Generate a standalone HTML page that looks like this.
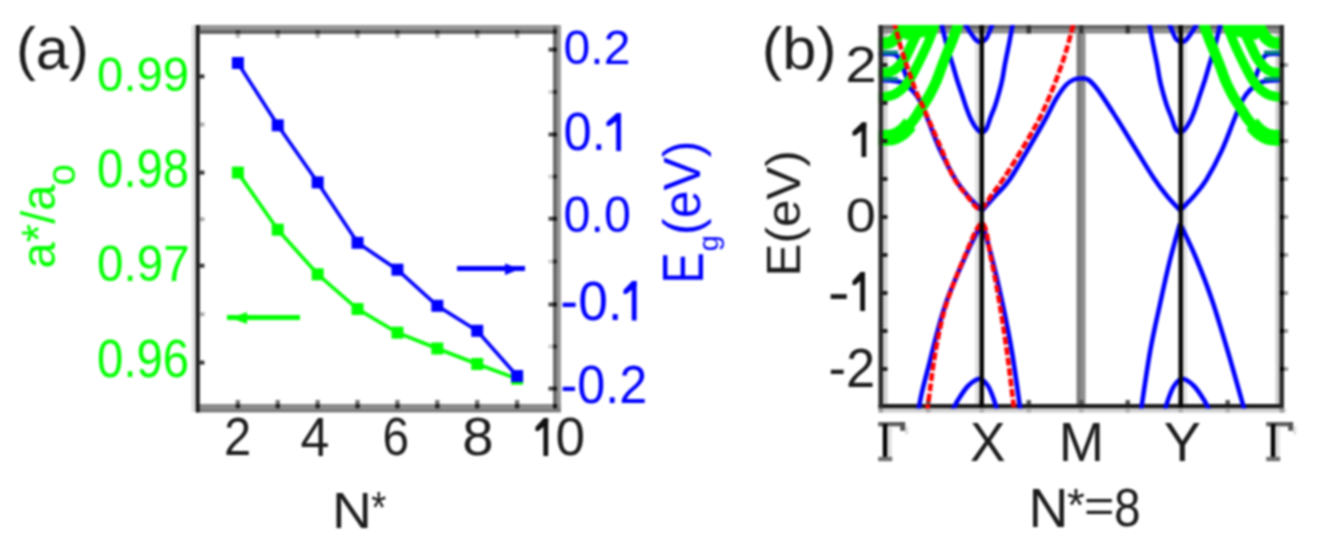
<!DOCTYPE html>
<html><head><meta charset="utf-8"><style>
html,body{margin:0;padding:0;background:#fff;}
svg{display:block;font-family:"Liberation Sans", sans-serif;filter:blur(1.1px);}
</style></head><body>
<svg width="1319" height="548" viewBox="0 0 1319 548" font-family='"Liberation Sans", sans-serif'>
<rect width="1319" height="548" fill="#fff"/>
<rect x="191.5" y="25" width="4.5" height="387" fill="#e0e0e0"/>
<rect x="196" y="25" width="365" height="5" fill="#969696"/>
<rect x="200" y="30" width="357" height="4" fill="#666"/>
<rect x="553" y="25" width="4" height="387" fill="#6a6a6a"/>
<rect x="557" y="25" width="4" height="387" fill="#999"/>
<rect x="196" y="404" width="365" height="4.3" fill="#8a8a8a"/>
<rect x="196" y="408.3" width="365" height="4.1" fill="#7a7a7a"/>
<rect x="553" y="404" width="4" height="4.3" fill="#111"/>
<rect x="553" y="29" width="4" height="5" fill="#222"/>
<rect x="195.7" y="25" width="4.1" height="387.4" fill="#1a1a1a"/>
<rect x="235.6888888888889" y="30" width="4.4" height="4" fill="#333"/>
<rect x="235.6888888888889" y="34" width="4.4" height="4" fill="#bbb"/>
<rect x="235.6888888888889" y="400" width="4.4" height="4" fill="#777"/>
<rect x="235.6888888888889" y="404" width="4.4" height="4.3" fill="#222"/>
<rect x="275.5777777777778" y="30" width="4.4" height="4" fill="#333"/>
<rect x="275.5777777777778" y="34" width="4.4" height="4" fill="#bbb"/>
<rect x="275.5777777777778" y="400" width="4.4" height="4" fill="#777"/>
<rect x="275.5777777777778" y="404" width="4.4" height="4.3" fill="#222"/>
<rect x="315.4666666666667" y="30" width="4.4" height="4" fill="#333"/>
<rect x="315.4666666666667" y="34" width="4.4" height="4" fill="#bbb"/>
<rect x="315.4666666666667" y="400" width="4.4" height="4" fill="#777"/>
<rect x="315.4666666666667" y="404" width="4.4" height="4.3" fill="#222"/>
<rect x="355.35555555555555" y="30" width="4.4" height="4" fill="#333"/>
<rect x="355.35555555555555" y="34" width="4.4" height="4" fill="#bbb"/>
<rect x="355.35555555555555" y="400" width="4.4" height="4" fill="#777"/>
<rect x="355.35555555555555" y="404" width="4.4" height="4.3" fill="#222"/>
<rect x="395.24444444444447" y="30" width="4.4" height="4" fill="#333"/>
<rect x="395.24444444444447" y="34" width="4.4" height="4" fill="#bbb"/>
<rect x="395.24444444444447" y="400" width="4.4" height="4" fill="#777"/>
<rect x="395.24444444444447" y="404" width="4.4" height="4.3" fill="#222"/>
<rect x="435.1333333333334" y="30" width="4.4" height="4" fill="#333"/>
<rect x="435.1333333333334" y="34" width="4.4" height="4" fill="#bbb"/>
<rect x="435.1333333333334" y="400" width="4.4" height="4" fill="#777"/>
<rect x="435.1333333333334" y="404" width="4.4" height="4.3" fill="#222"/>
<rect x="475.02222222222224" y="30" width="4.4" height="4" fill="#333"/>
<rect x="475.02222222222224" y="34" width="4.4" height="4" fill="#bbb"/>
<rect x="475.02222222222224" y="400" width="4.4" height="4" fill="#777"/>
<rect x="475.02222222222224" y="404" width="4.4" height="4.3" fill="#222"/>
<rect x="514.911111111111" y="30" width="4.4" height="4" fill="#333"/>
<rect x="514.911111111111" y="34" width="4.4" height="4" fill="#bbb"/>
<rect x="514.911111111111" y="400" width="4.4" height="4" fill="#777"/>
<rect x="514.911111111111" y="404" width="4.4" height="4.3" fill="#222"/>
<rect x="199.8" y="74.4" width="4.6" height="4" fill="#333"/>
<rect x="199.8" y="170.6" width="4.6" height="4" fill="#333"/>
<rect x="199.8" y="263.7" width="4.6" height="4" fill="#333"/>
<rect x="199.8" y="360.6" width="4.6" height="4" fill="#333"/>
<rect x="199.8" y="122.5" width="4.6" height="4" fill="#aaa"/>
<rect x="199.8" y="217.2" width="4.6" height="4" fill="#aaa"/>
<rect x="199.8" y="312.2" width="4.6" height="4" fill="#aaa"/>
<rect x="548.5" y="47.6" width="4.5" height="4" fill="#444"/>
<rect x="553" y="47.6" width="4" height="4" fill="#111"/>
<rect x="548.5" y="132.5" width="4.5" height="4" fill="#444"/>
<rect x="553" y="132.5" width="4" height="4" fill="#111"/>
<rect x="548.5" y="216.7" width="4.5" height="4" fill="#444"/>
<rect x="553" y="216.7" width="4" height="4" fill="#111"/>
<rect x="548.5" y="302.5" width="4.5" height="4" fill="#444"/>
<rect x="553" y="302.5" width="4" height="4" fill="#111"/>
<rect x="548.5" y="386.6" width="4.5" height="4" fill="#444"/>
<rect x="553" y="386.6" width="4" height="4" fill="#111"/>
<rect x="548.5" y="90" width="4.5" height="4" fill="#ccc"/>
<rect x="553" y="90" width="4" height="4" fill="#222"/>
<rect x="548.5" y="174.6" width="4.5" height="4" fill="#ccc"/>
<rect x="553" y="174.6" width="4" height="4" fill="#222"/>
<rect x="548.5" y="259.5" width="4.5" height="4" fill="#ccc"/>
<rect x="553" y="259.5" width="4" height="4" fill="#222"/>
<rect x="548.5" y="344.5" width="4.5" height="4" fill="#ccc"/>
<rect x="553" y="344.5" width="4" height="4" fill="#222"/>
<path d="M237.9,172.6 L277.8,229.7 L317.7,274.3 L357.6,309.0 L397.4,332.7 L437.3,348.5 L477.2,364.0 L517.1,378.7" fill="none" stroke="#00ff00" stroke-width="3.6"/>
<rect x="231.88888888888889" y="166.6" width="12" height="12" fill="#00ff00"/>
<rect x="271.77777777777777" y="223.7" width="12" height="12" fill="#00ff00"/>
<rect x="311.6666666666667" y="268.3" width="12" height="12" fill="#00ff00"/>
<rect x="351.55555555555554" y="303" width="12" height="12" fill="#00ff00"/>
<rect x="391.44444444444446" y="326.7" width="12" height="12" fill="#00ff00"/>
<rect x="431.33333333333337" y="342.5" width="12" height="12" fill="#00ff00"/>
<rect x="471.22222222222223" y="358" width="12" height="12" fill="#00ff00"/>
<rect x="511.1111111111111" y="372.7" width="12" height="12" fill="#00ff00"/>
<path d="M237.9,63.0 L277.8,125.3 L317.7,182.4 L357.6,242.8 L397.4,269.7 L437.3,305.8 L477.2,330.8 L517.1,376.0" fill="none" stroke="#0000ff" stroke-width="3.6"/>
<rect x="231.88888888888889" y="57" width="12" height="12" fill="#0000ff"/>
<rect x="271.77777777777777" y="119.3" width="12" height="12" fill="#0000ff"/>
<rect x="311.6666666666667" y="176.4" width="12" height="12" fill="#0000ff"/>
<rect x="351.55555555555554" y="236.8" width="12" height="12" fill="#0000ff"/>
<rect x="391.44444444444446" y="263.7" width="12" height="12" fill="#0000ff"/>
<rect x="431.33333333333337" y="299.8" width="12" height="12" fill="#0000ff"/>
<rect x="471.22222222222223" y="324.8" width="12" height="12" fill="#0000ff"/>
<rect x="511.1111111111111" y="370" width="12" height="12" fill="#0000ff"/>
<rect x="457" y="266" width="68" height="5" fill="#0000ff"/>
<path d="M505,263.5 L520,269 L505,275 Z" fill="#0000ff"/>
<rect x="227" y="315" width="73" height="5" fill="#00ff00"/>
<path d="M247,312 L231,318 L247,324 Z" fill="#00ff00"/>
<rect x="883.0" y="29.0" width="4.5" height="377.0" fill="#d0d0d0"/>
<rect x="1275.5" y="29.0" width="4.5" height="377.0" fill="#cfcfcf"/>
<rect x="975.0" y="29.0" width="4.5" height="377.0" fill="#e2e2e2"/>
<rect x="1183.0" y="29.0" width="4" height="377.0" fill="#e2e2e2"/>
<rect x="1076.5" y="29.0" width="4.5" height="377.0" fill="#7e7e7e"/>
<rect x="1081.0" y="29.0" width="4.5" height="377.0" fill="#8e8e8e"/>
<rect x="878.5" y="25.0" width="405.5" height="4.3" fill="#666"/>
<rect x="878.5" y="29.3" width="405.5" height="4.2" fill="#8c8c8c"/>
<rect x="878.5" y="404.0" width="405.5" height="4.5" fill="#1a1a1a"/>
<rect x="878.5" y="408.5" width="407.5" height="4" fill="#d0d0d0"/>
<rect x="926" y="25.0" width="4.5" height="8.5" fill="#333"/>
<rect x="926" y="400.0" width="4.5" height="4" fill="#555"/>
<rect x="926" y="408.5" width="4.5" height="4" fill="#aaa"/>
<rect x="979.5" y="25.0" width="4.5" height="8.5" fill="#333"/>
<rect x="979.5" y="400.0" width="4.5" height="4" fill="#555"/>
<rect x="979.5" y="408.5" width="4.5" height="4" fill="#aaa"/>
<rect x="1026.5" y="25.0" width="4.5" height="8.5" fill="#333"/>
<rect x="1026.5" y="400.0" width="4.5" height="4" fill="#555"/>
<rect x="1026.5" y="408.5" width="4.5" height="4" fill="#aaa"/>
<rect x="1079.0" y="25.0" width="4.5" height="8.5" fill="#333"/>
<rect x="1079.0" y="400.0" width="4.5" height="4" fill="#555"/>
<rect x="1079.0" y="408.5" width="4.5" height="4" fill="#aaa"/>
<rect x="1125.5" y="25.0" width="4.5" height="8.5" fill="#333"/>
<rect x="1125.5" y="400.0" width="4.5" height="4" fill="#555"/>
<rect x="1125.5" y="408.5" width="4.5" height="4" fill="#aaa"/>
<rect x="1178.5" y="25.0" width="4.5" height="8.5" fill="#333"/>
<rect x="1178.5" y="400.0" width="4.5" height="4" fill="#555"/>
<rect x="1178.5" y="408.5" width="4.5" height="4" fill="#aaa"/>
<rect x="1225.5" y="25.0" width="4.5" height="8.5" fill="#333"/>
<rect x="1225.5" y="400.0" width="4.5" height="4" fill="#555"/>
<rect x="1225.5" y="408.5" width="4.5" height="4" fill="#aaa"/>
<clipPath id="cb"><rect x="878.5" y="25" width="405.5" height="383.5"/></clipPath>
<g clip-path="url(#cb)">
<path d="M982.0,210.6 C979.7,208.2 972.4,201.1 968.0,196.0 C963.6,190.9 960.5,187.7 955.8,180.0 C951.1,172.3 944.6,160.0 940.0,150.0 C935.4,140.0 931.3,128.2 928.0,120.0 C924.7,111.8 922.7,106.0 920.0,101.0 C917.3,96.0 915.3,93.2 912.0,90.0 C908.7,86.8 905.3,83.7 900.0,82.0 C894.7,80.3 883.3,80.3 880.0,80.0" fill="none" stroke="#0000ff" stroke-width="4.6" stroke-linejoin="round" />
<path d="M1180.0,210.6 C1182.3,208.2 1189.6,201.1 1194.0,196.0 C1198.4,190.9 1201.5,187.7 1206.2,180.0 C1210.9,172.3 1217.4,160.0 1222.0,150.0 C1226.6,140.0 1230.7,128.2 1234.0,120.0 C1237.3,111.8 1239.3,106.0 1242.0,101.0 C1244.7,96.0 1246.7,93.2 1250.0,90.0 C1253.3,86.8 1256.7,83.7 1262.0,82.0 C1267.3,80.3 1278.7,80.3 1282.0,80.0" fill="none" stroke="#0000ff" stroke-width="4.6" stroke-linejoin="round" />
<path d="M982.0,210.6 C984.3,208.0 991.4,200.1 996.0,195.0 C1000.6,189.9 1003.7,188.2 1009.4,180.0 C1015.1,171.8 1024.0,156.2 1030.0,146.0 C1036.0,135.8 1041.4,126.4 1045.7,118.6 C1050.0,110.8 1052.6,104.6 1056.0,99.0 C1059.4,93.4 1063.0,88.2 1066.0,85.0 C1069.0,81.8 1071.5,80.6 1074.0,79.5 C1076.5,78.4 1078.7,78.5 1081.0,78.5 C1083.3,78.5 1085.2,77.6 1088.0,79.5 C1090.8,81.4 1093.2,83.6 1098.0,90.0 C1102.8,96.4 1110.3,108.3 1116.5,118.0 C1122.7,127.7 1128.9,138.2 1135.0,148.0 C1141.1,157.8 1147.7,169.0 1153.0,177.0 C1158.3,185.0 1162.4,190.4 1167.0,196.0 C1171.6,201.6 1178.2,208.2 1180.4,210.6" fill="none" stroke="#0000ff" stroke-width="4.6" stroke-linejoin="round" />
<path d="M878.0,54.0 C881.0,54.2 891.8,52.7 896.0,55.0 C900.2,57.3 901.0,63.5 903.0,68.0 C905.0,72.5 907.2,79.7 908.0,82.0" fill="none" stroke="#0000ff" stroke-width="4.6" stroke-linejoin="round" />
<path d="M1284.0,54.0 C1281.0,54.2 1270.2,52.7 1266.0,55.0 C1261.8,57.3 1261.0,63.5 1259.0,68.0 C1257.0,72.5 1254.8,79.7 1254.0,82.0" fill="none" stroke="#0000ff" stroke-width="4.6" stroke-linejoin="round" />
<path d="M982.0,222.7 C979.3,228.1 971.8,242.1 966.0,255.0 C960.2,267.9 951.8,287.0 947.0,300.0 C942.2,313.0 939.9,322.5 937.0,333.0 C934.1,343.5 931.9,353.2 929.4,363.0 C926.9,372.8 923.9,383.8 922.0,392.0 C920.1,400.2 918.7,408.7 918.0,412.0" fill="none" stroke="#0000ff" stroke-width="4.6" stroke-linejoin="round" />
<path d="M982.0,222.7 C983.7,228.6 988.7,245.1 992.0,258.0 C995.3,270.9 998.5,284.3 1001.8,300.0 C1005.1,315.7 1008.9,333.3 1012.0,352.0 C1015.1,370.7 1019.2,402.0 1020.7,412.0" fill="none" stroke="#0000ff" stroke-width="4.6" stroke-linejoin="round" />
<path d="M1180.0,223.5 C1178.3,229.6 1173.2,247.2 1170.0,260.0 C1166.8,272.8 1164.2,284.7 1160.9,300.0 C1157.6,315.3 1153.3,333.3 1150.0,352.0 C1146.7,370.7 1142.3,402.0 1140.8,412.0" fill="none" stroke="#0000ff" stroke-width="4.6" stroke-linejoin="round" />
<path d="M1180.0,223.5 C1182.7,229.2 1190.7,245.2 1196.0,258.0 C1201.3,270.8 1206.7,284.3 1212.0,300.0 C1217.3,315.7 1222.5,333.3 1228.0,352.0 C1233.5,370.7 1242.2,402.0 1245.0,412.0" fill="none" stroke="#0000ff" stroke-width="4.6" stroke-linejoin="round" />
<path d="M941.6,24.0 C942.3,27.0 944.5,36.5 946.0,42.0 C947.5,47.5 949.0,52.9 950.3,57.2 C951.6,61.5 952.5,64.2 953.6,68.0 C954.7,71.8 955.7,75.6 957.1,80.0 C958.5,84.4 960.3,89.5 961.9,94.2 C963.5,99.0 965.0,104.2 966.6,108.5 C968.2,112.8 969.8,117.0 971.4,120.3 C973.0,123.6 974.8,126.5 976.5,128.5 C978.2,130.5 980.1,132.5 981.8,132.5 C983.5,132.5 985.1,130.9 986.5,128.5 C987.9,126.1 988.9,121.8 990.3,118.0 C991.7,114.2 993.6,110.0 995.0,106.0 C996.4,102.0 997.4,98.5 998.6,94.2 C999.8,89.9 1001.1,85.1 1002.2,80.0 C1003.3,74.9 1003.8,70.1 1005.0,63.8 C1006.2,57.5 1008.1,48.6 1009.4,42.0 C1010.7,35.4 1012.2,27.0 1012.7,24.0" fill="none" stroke="#0000ff" stroke-width="4.6" stroke-linejoin="round" />
<path d="M1220.4,24.0 C1219.7,27.0 1217.5,36.5 1216.0,42.0 C1214.5,47.5 1213.0,52.9 1211.7,57.2 C1210.4,61.5 1209.5,64.2 1208.4,68.0 C1207.3,71.8 1206.3,75.6 1204.9,80.0 C1203.5,84.4 1201.7,89.5 1200.1,94.2 C1198.5,99.0 1197.0,104.2 1195.4,108.5 C1193.8,112.8 1192.2,117.0 1190.6,120.3 C1188.9,123.6 1187.2,126.5 1185.5,128.5 C1183.8,130.5 1181.9,132.5 1180.2,132.5 C1178.5,132.5 1176.9,130.9 1175.5,128.5 C1174.1,126.1 1173.1,121.8 1171.7,118.0 C1170.3,114.2 1168.4,110.0 1167.0,106.0 C1165.6,102.0 1164.6,98.5 1163.4,94.2 C1162.2,89.9 1160.9,85.1 1159.8,80.0 C1158.7,74.9 1158.2,70.1 1157.0,63.8 C1155.8,57.5 1153.9,48.6 1152.6,42.0 C1151.3,35.4 1149.8,27.0 1149.3,24.0" fill="none" stroke="#0000ff" stroke-width="4.6" stroke-linejoin="round" />
<path d="M964.0,22.0 C965.0,23.7 968.0,29.0 970.0,32.0 C972.0,35.0 974.2,38.3 976.0,40.0 C977.8,41.7 979.3,42.2 981.0,42.0 C982.7,41.8 984.3,41.3 986.0,39.0 C987.7,36.7 989.8,30.8 991.0,28.0 C992.2,25.2 992.7,23.0 993.0,22.0" fill="none" stroke="#0000ff" stroke-width="4.6" stroke-linejoin="round" />
<path d="M1198.0,22.0 C1197.0,23.7 1194.0,29.0 1192.0,32.0 C1190.0,35.0 1187.8,38.3 1186.0,40.0 C1184.2,41.7 1182.7,42.2 1181.0,42.0 C1179.3,41.8 1177.7,41.3 1176.0,39.0 C1174.3,36.7 1172.2,30.8 1171.0,28.0 C1169.8,25.2 1169.3,23.0 1169.0,22.0" fill="none" stroke="#0000ff" stroke-width="4.6" stroke-linejoin="round" />
<path d="M952.0,412.0 C953.0,410.0 955.3,404.3 958.0,400.0 C960.7,395.7 964.4,389.6 968.0,386.0 C971.6,382.4 976.5,378.7 979.8,378.7 C983.1,378.7 985.6,382.4 988.0,386.0 C990.4,389.6 992.4,395.7 994.0,400.0 C995.6,404.3 996.9,410.0 997.5,412.0" fill="none" stroke="#0000ff" stroke-width="4.6" stroke-linejoin="round" />
<path d="M1210.0,412.0 C1209.0,410.0 1206.7,404.3 1204.0,400.0 C1201.3,395.7 1197.6,389.6 1194.0,386.0 C1190.4,382.4 1185.5,378.7 1182.2,378.7 C1178.9,378.7 1176.4,382.4 1174.0,386.0 C1171.6,389.6 1169.6,395.7 1168.0,400.0 C1166.4,404.3 1165.1,410.0 1164.5,412.0" fill="none" stroke="#0000ff" stroke-width="4.6" stroke-linejoin="round" />
<path d="M876.0,138.0 C879.2,137.7 890.2,137.3 895.0,136.0 C899.8,134.7 901.7,133.0 905.0,130.0 C908.3,127.0 912.2,121.8 915.0,118.0 C917.8,114.2 919.7,110.7 922.0,107.0 C924.3,103.3 926.7,100.2 929.0,96.0 C931.3,91.8 933.8,87.0 936.0,82.0 C938.2,77.0 940.1,71.0 942.0,66.0 C943.9,61.0 945.8,56.3 947.5,52.0 C949.2,47.7 951.0,43.8 952.5,40.0 C954.0,36.2 955.5,32.3 956.5,29.0 C957.5,25.7 958.2,21.5 958.5,20.0" fill="none" stroke="#00ff00" stroke-width="10.5" stroke-linecap="butt"/>
<path d="M1286.0,138.0 C1282.8,137.7 1271.8,137.3 1267.0,136.0 C1262.2,134.7 1260.3,133.0 1257.0,130.0 C1253.7,127.0 1249.8,121.8 1247.0,118.0 C1244.2,114.2 1242.3,110.7 1240.0,107.0 C1237.7,103.3 1235.3,100.2 1233.0,96.0 C1230.7,91.8 1228.2,87.0 1226.0,82.0 C1223.8,77.0 1221.9,71.0 1220.0,66.0 C1218.1,61.0 1216.2,56.3 1214.5,52.0 C1212.8,47.7 1211.0,43.8 1209.5,40.0 C1208.0,36.2 1206.5,32.3 1205.5,29.0 C1204.5,25.7 1203.8,21.5 1203.5,20.0" fill="none" stroke="#00ff00" stroke-width="10.5" stroke-linecap="butt"/>
<path d="M876.0,138.0 C878.8,137.8 888.5,138.1 893.0,137.0 C897.5,135.9 900.2,133.7 903.0,131.5 C905.8,129.3 908.8,125.2 910.0,124.0" fill="none" stroke="#00ff00" stroke-width="16" stroke-linecap="butt"/>
<path d="M1286.0,138.0 C1283.2,137.8 1273.5,138.1 1269.0,137.0 C1264.5,135.9 1261.8,133.7 1259.0,131.5 C1256.2,129.3 1253.2,125.2 1252.0,124.0" fill="none" stroke="#00ff00" stroke-width="16" stroke-linecap="butt"/>
<path d="M876.0,98.0 C878.8,97.5 888.5,96.7 893.0,95.0 C897.5,93.3 900.2,90.7 903.0,88.0 C905.8,85.3 907.8,82.3 910.0,79.0 C912.2,75.7 914.0,71.8 916.0,68.0 C918.0,64.2 920.0,60.2 922.0,56.0 C924.0,51.8 926.2,47.3 928.0,43.0 C929.8,38.7 931.7,33.8 933.0,30.0 C934.3,26.2 935.5,21.7 936.0,20.0" fill="none" stroke="#00ff00" stroke-width="9.5" stroke-linecap="butt"/>
<path d="M1286.0,98.0 C1283.2,97.5 1273.5,96.7 1269.0,95.0 C1264.5,93.3 1261.8,90.7 1259.0,88.0 C1256.2,85.3 1254.2,82.3 1252.0,79.0 C1249.8,75.7 1248.0,71.8 1246.0,68.0 C1244.0,64.2 1242.0,60.2 1240.0,56.0 C1238.0,51.8 1235.8,47.3 1234.0,43.0 C1232.2,38.7 1230.3,33.8 1229.0,30.0 C1227.7,26.2 1226.5,21.7 1226.0,20.0" fill="none" stroke="#00ff00" stroke-width="9.5" stroke-linecap="butt"/>
<path d="M876.0,73.0 C878.3,72.8 886.3,73.0 890.0,72.0 C893.7,71.0 895.5,69.3 898.0,67.0 C900.5,64.7 902.8,61.5 905.0,58.0 C907.2,54.5 909.0,50.2 911.0,46.0 C913.0,41.8 915.3,37.3 917.0,33.0 C918.7,28.7 920.3,22.2 921.0,20.0" fill="none" stroke="#00ff00" stroke-width="10" stroke-linecap="butt"/>
<path d="M1286.0,73.0 C1283.7,72.8 1275.7,73.0 1272.0,72.0 C1268.3,71.0 1266.5,69.3 1264.0,67.0 C1261.5,64.7 1259.2,61.5 1257.0,58.0 C1254.8,54.5 1253.0,50.2 1251.0,46.0 C1249.0,41.8 1246.7,37.3 1245.0,33.0 C1243.3,28.7 1241.7,22.2 1241.0,20.0" fill="none" stroke="#00ff00" stroke-width="10" stroke-linecap="butt"/>
<path d="M876.0,43.0 C878.0,43.0 884.7,43.8 888.0,43.0 C891.3,42.2 893.7,40.5 896.0,38.0 C898.3,35.5 900.3,31.3 902.0,28.0 C903.7,24.7 905.3,19.7 906.0,18.0" fill="none" stroke="#00ff00" stroke-width="12" stroke-linecap="butt"/>
<path d="M1286.0,43.0 C1284.0,43.0 1277.3,43.8 1274.0,43.0 C1270.7,42.2 1268.3,40.5 1266.0,38.0 C1263.7,35.5 1261.7,31.3 1260.0,28.0 C1258.3,24.7 1256.7,19.7 1256.0,18.0" fill="none" stroke="#00ff00" stroke-width="12" stroke-linecap="butt"/>
<path d="M896,20 L935,20 L930,36 L905,40 Z" fill="#00ff00"/>
<path d="M1266.0,20.0 L1227.0,20.0 L1232.0,36.0 L1257.0,40.0 Z" fill="#00ff00"/>
<rect x="879" y="50.5" width="19" height="4" fill="#00807f"/>
<rect x="1264.0" y="50.5" width="19" height="4" fill="#00807f"/>
<rect x="879" y="77" width="19" height="4" fill="#00807f"/>
<rect x="1264.0" y="77" width="19" height="4" fill="#00807f"/>
<path d="M894.0,21.5 C895.0,25.3 898.0,37.5 900.0,44.5 C902.0,51.5 904.2,58.0 906.0,63.5 C907.8,69.0 909.3,72.8 911.0,77.5 C912.7,82.2 914.2,87.0 916.0,91.5 C917.8,96.0 919.3,98.5 922.0,104.5 C924.7,110.5 928.7,119.8 932.0,127.5 C935.3,135.2 938.5,142.3 942.0,150.5 C945.5,158.7 949.0,169.2 953.0,176.5 C957.0,183.8 961.5,189.1 966.0,194.5 C970.5,199.9 975.7,209.0 980.0,209.0 C984.3,209.0 987.8,199.9 992.0,194.5 C996.2,189.1 999.3,185.2 1005.0,176.5 C1010.7,167.8 1020.0,152.7 1026.0,142.5 C1032.0,132.3 1036.7,124.2 1041.0,115.5 C1045.3,106.8 1048.8,98.2 1052.0,90.5 C1055.2,82.8 1057.7,76.0 1060.0,69.5 C1062.3,63.0 1064.2,57.5 1066.0,51.5 C1067.8,45.5 1069.7,38.5 1071.0,33.5 C1072.3,28.5 1073.5,23.5 1074.0,21.5" fill="none" stroke="#ff0000" stroke-width="4.6" stroke-linejoin="round" stroke-dasharray="8 2.5"/>
<path d="M927.0,412.0 C927.5,408.3 928.9,398.2 930.0,390.0 C931.1,381.8 932.1,372.5 933.6,363.0 C935.1,353.5 936.8,343.2 939.0,333.0 C941.2,322.8 942.8,314.5 947.0,302.0 C951.2,289.5 958.2,271.1 964.0,258.0 C969.8,244.9 977.5,223.5 982.0,223.5 C986.5,223.5 988.2,245.2 991.0,258.0 C993.8,270.8 996.3,284.3 999.0,300.0 C1001.7,315.7 1004.4,333.3 1007.0,352.0 C1009.6,370.7 1013.2,402.0 1014.5,412.0" fill="none" stroke="#ff0000" stroke-width="4.6" stroke-linejoin="round" stroke-dasharray="8 2.5"/>
</g>
<rect x="979.5" y="25.0" width="4.5" height="383.0" fill="#050505"/>
<rect x="1178.5" y="25.0" width="4.5" height="383.0" fill="#050505"/>
<rect x="878.5" y="25.0" width="4.5" height="383.5" fill="#2a2a2a"/>
<rect x="1279.5" y="25.0" width="4.5" height="383.5" fill="#2a2a2a"/>
<rect x="878.5" y="408.5" width="4.5" height="4" fill="#999"/>
<rect x="1279.5" y="408.5" width="4.5" height="4" fill="#999"/>
<rect x="880.5" y="367.0" width="7" height="4" fill="#222"/>
<rect x="1280.0" y="367.0" width="4" height="4" fill="#000"/>
<rect x="1284.0" y="367.0" width="4" height="4" fill="#999"/>
<rect x="880.5" y="329.0" width="7" height="4" fill="#222"/>
<rect x="1280.0" y="329.0" width="4" height="4" fill="#000"/>
<rect x="1284.0" y="329.0" width="4" height="4" fill="#999"/>
<rect x="880.5" y="291.0" width="7" height="4" fill="#222"/>
<rect x="1280.0" y="291.0" width="4" height="4" fill="#000"/>
<rect x="1284.0" y="291.0" width="4" height="4" fill="#999"/>
<rect x="880.5" y="253.0" width="7" height="4" fill="#222"/>
<rect x="1280.0" y="253.0" width="4" height="4" fill="#000"/>
<rect x="1284.0" y="253.0" width="4" height="4" fill="#999"/>
<rect x="880.5" y="215.0" width="7" height="4" fill="#222"/>
<rect x="1280.0" y="215.0" width="4" height="4" fill="#000"/>
<rect x="1284.0" y="215.0" width="4" height="4" fill="#999"/>
<rect x="880.5" y="177.0" width="7" height="4" fill="#222"/>
<rect x="1280.0" y="177.0" width="4" height="4" fill="#000"/>
<rect x="1284.0" y="177.0" width="4" height="4" fill="#999"/>
<rect x="880.5" y="139.0" width="7" height="4" fill="#222"/>
<rect x="1280.0" y="139.0" width="4" height="4" fill="#000"/>
<rect x="1284.0" y="139.0" width="4" height="4" fill="#999"/>
<rect x="880.5" y="101.0" width="7" height="4" fill="#222"/>
<rect x="1280.0" y="101.0" width="4" height="4" fill="#000"/>
<rect x="1284.0" y="101.0" width="4" height="4" fill="#999"/>
<rect x="880.5" y="63.0" width="7" height="4" fill="#222"/>
<rect x="1280.0" y="63.0" width="4" height="4" fill="#000"/>
<rect x="1284.0" y="63.0" width="4" height="4" fill="#999"/>
<text transform="translate(15.93,69.38) scale(0.5955,0.6011)" font-family='"Liberation Sans", sans-serif' font-size="100" fill="#1c1c1c">(a)</text>
<text transform="translate(97.11,90.51) scale(0.4731,0.4859)" font-family='"Liberation Sans", sans-serif' font-size="100" fill="#00ff00">0.99</text>
<text transform="translate(97.11,187.46) scale(0.4731,0.5423)" font-family='"Liberation Sans", sans-serif' font-size="100" fill="#00ff00">0.98</text>
<text transform="translate(97.10,280.51) scale(0.4758,0.4930)" font-family='"Liberation Sans", sans-serif' font-size="100" fill="#00ff00">0.97</text>
<text transform="translate(97.11,376.96) scale(0.4731,0.5423)" font-family='"Liberation Sans", sans-serif' font-size="100" fill="#00ff00">0.96</text>
<text transform="translate(563.58,64.02) scale(0.4808,0.4789)" font-family='"Liberation Sans", sans-serif' font-size="100" fill="#0000ff">0.2</text>
<text transform="translate(563.47,150.46) scale(0.5071,0.5352)" font-family='"Liberation Sans", sans-serif' font-size="100" fill="#0000ff">0.</text>
<text transform="translate(563.56,232.01) scale(0.4847,0.4930)" font-family='"Liberation Sans", sans-serif' font-size="100" fill="#0000ff">0.0</text>
<text transform="translate(560.37,319.94) scale(0.5337,0.5563)" font-family='"Liberation Sans", sans-serif' font-size="100" fill="#0000ff">-0.</text>
<text transform="translate(560.49,403.46) scale(0.5031,0.5423)" font-family='"Liberation Sans", sans-serif' font-size="100" fill="#0000ff">-0.2</text>
<text transform="translate(224.05,455.00) scale(0.4891,0.5286)" font-family='"Liberation Sans", sans-serif' font-size="100" fill="#1c1c1c">2</text>
<text transform="translate(300.46,456.05) scale(0.5196,0.5515)" font-family='"Liberation Sans", sans-serif' font-size="100" fill="#1c1c1c">4</text>
<text transform="translate(382.61,455.46) scale(0.4783,0.5352)" font-family='"Liberation Sans", sans-serif' font-size="100" fill="#1c1c1c">6</text>
<text transform="translate(462.24,455.46) scale(0.5638,0.5352)" font-family='"Liberation Sans", sans-serif' font-size="100" fill="#1c1c1c">8</text>
<text transform="translate(555.38,455.46) scale(0.5312,0.5352)" font-family='"Liberation Sans", sans-serif' font-size="100" fill="#1c1c1c">0</text>
<text transform="translate(332.07,527.50) scale(0.5536,0.5072)" font-family='"Liberation Sans", sans-serif' font-size="100" fill="#1c1c1c">N</text>
<text transform="translate(371.23,523.06) scale(0.3857,0.4429)" font-family='"Liberation Sans", sans-serif' font-size="100" fill="#1c1c1c">*</text>
<text transform="translate(55.02,268.39) rotate(-90) scale(0.4713,0.4797)" font-family='"Liberation Sans", sans-serif' font-size="100" fill="#00ff00">a*/a</text>
<text transform="translate(74.60,185.53) rotate(-90) scale(0.3830,0.4000)" font-family='"Liberation Sans", sans-serif' font-size="100" fill="#00ff00">o</text>
<text transform="translate(702.50,283.78) rotate(-90) scale(0.4722,0.5652)" font-family='"Liberation Sans", sans-serif' font-size="100" fill="#0000ff">E</text>
<text transform="translate(718.04,251.16) rotate(-90) scale(0.2889,0.2838)" font-family='"Liberation Sans", sans-serif' font-size="100" fill="#0000ff">g</text>
<text transform="translate(700.28,235.00) rotate(-90) scale(0.5000,0.5106)" font-family='"Liberation Sans", sans-serif' font-size="100" fill="#0000ff">(eV)</text>
<text transform="translate(761.82,69.38) scale(0.6136,0.6011)" font-family='"Liberation Sans", sans-serif' font-size="100" fill="#1c1c1c">(b)</text>
<text transform="translate(845.17,82.00) scale(0.5652,0.5071)" font-family='"Liberation Sans", sans-serif' font-size="100" fill="#1c1c1c">2</text>
<text transform="translate(845.83,232.01) scale(0.5417,0.4859)" font-family='"Liberation Sans", sans-serif' font-size="100" fill="#1c1c1c">0</text>
<text transform="translate(827.86,312.96) scale(0.6600,0.6375)" font-family='"Liberation Sans", sans-serif' font-size="100" fill="#1c1c1c">-</text>
<text transform="translate(828.40,386.50) scale(0.5250,0.5643)" font-family='"Liberation Sans", sans-serif' font-size="100" fill="#1c1c1c">-2</text>
<text transform="translate(800.34,276.45) rotate(-90) scale(0.4938,0.4840)" font-family='"Liberation Sans", sans-serif' font-size="100" fill="#1c1c1c">E(eV)</text>
<text transform="translate(969.90,461.00) scale(0.5328,0.5580)" font-family='"Liberation Sans", sans-serif' font-size="100" fill="#1c1c1c">X</text>
<text transform="translate(1058.64,460.50) scale(0.5448,0.5507)" font-family='"Liberation Sans", sans-serif' font-size="100" fill="#1c1c1c">M</text>
<text transform="translate(1163.83,461.00) scale(0.5574,0.5580)" font-family='"Liberation Sans", sans-serif' font-size="100" fill="#1c1c1c">Y</text>
<text transform="translate(1028.57,527.00) scale(0.5536,0.5507)" font-family='"Liberation Sans", sans-serif' font-size="100" fill="#1c1c1c">N</text>
<text transform="translate(1067.09,520.54) scale(0.4571,0.4571)" font-family='"Liberation Sans", sans-serif' font-size="100" fill="#1c1c1c">*</text>
<text transform="translate(1083.90,522.20) scale(0.5208,0.4531)" font-family='"Liberation Sans", sans-serif' font-size="100" fill="#1c1c1c">=</text>
<text transform="translate(1114.09,526.46) scale(0.4787,0.5423)" font-family='"Liberation Sans", sans-serif' font-size="100" fill="#1c1c1c">8</text>
<rect x="616.2" y="113" width="4.8" height="38" fill="#0000ff"/>
<path d="M616.7,113 L621.0,113 L621.0,118 L609.5,126 L606.5,126 L606.5,122 Z" fill="#0000ff"/>
<rect x="631.8" y="281" width="4.8" height="39.5" fill="#0000ff"/>
<path d="M632.3,281 L636.5999999999999,281 L636.5999999999999,286 L626.5,294 L623.5,294 L623.5,290 Z" fill="#0000ff"/>
<rect x="543.4" y="418" width="4.8" height="38" fill="#111"/>
<path d="M543.9,418 L548.1999999999999,418 L548.1999999999999,423 L538.5,431 L535.5,431 L535.5,427 Z" fill="#111"/>
<rect x="861.5" y="122.5" width="4.8" height="34.5" fill="#111"/>
<path d="M862.0,122.5 L866.3,122.5 L866.3,127.5 L855.5,135.5 L852.5,135.5 L852.5,131.5 Z" fill="#111"/>
<rect x="860.2" y="272" width="4.8" height="39" fill="#111"/>
<path d="M860.7,272 L865.0,272 L865.0,277 L855.5,285 L852.5,285 L852.5,281 Z" fill="#111"/>
<rect x="878.2" y="422" width="26.5" height="4.4" fill="#606060"/>
<rect x="900.2" y="422" width="5" height="8.8" fill="#555"/>
<rect x="905.2" y="426.4" width="3" height="8" fill="#dcdcdc"/>
<rect x="882.8000000000001" y="424" width="4.8" height="36" fill="#000"/>
<rect x="887.4000000000001" y="426.4" width="4.4" height="31" fill="#e0e0e0"/>
<rect x="878.2" y="456.8" width="14" height="4.4" fill="#707070"/>
<rect x="1266.2" y="422" width="26.5" height="4.4" fill="#606060"/>
<rect x="1288.2" y="422" width="5" height="8.8" fill="#555"/>
<rect x="1293.2" y="426.4" width="3" height="8" fill="#dcdcdc"/>
<rect x="1270.8" y="424" width="4.8" height="36" fill="#000"/>
<rect x="1275.4" y="426.4" width="4.4" height="31" fill="#e0e0e0"/>
<rect x="1266.2" y="456.8" width="14" height="4.4" fill="#707070"/>
</svg>
</body></html>
